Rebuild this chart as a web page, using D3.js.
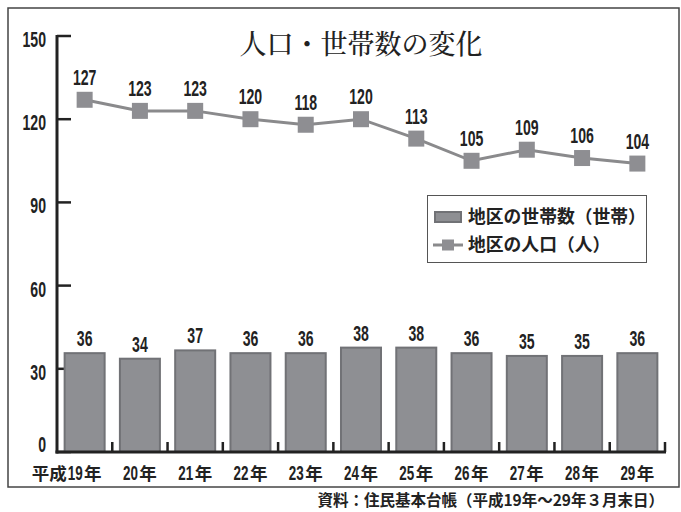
<!DOCTYPE html>
<html><head><meta charset="utf-8">
<script src="https://cdn.jsdelivr.net/npm/d3@7/dist/d3.min.js"></script>
<style>
html,body{margin:0;padding:0;background:#fff;}
svg{display:block;}
</style></head>
<body>
<svg id="c" width="681" height="512"></svg>
<script>
const categories = ["19年","20年","21年","22年","23年","24年","25年","26年","27年","28年","29年"];
const eraPrefix = "平成";
const households = [36,34,37,36,36,38,38,36,35,35,36];
const population = [127,123,123,120,118,120,113,105,109,106,104];
const yTicks = [0,30,60,90,120,150];
const titleText = "人口・世帯数の変化";
const sourceText = "資料：住民基本台帳（平成19年～29年３月末日）";
const legendBar = "地区の世帯数（世帯）";
const legendLine = "地区の人口（人）";

const numFont = "'Liberation Sans',Arial,sans-serif";
const cjkFont = "'Noto Sans CJK JP',sans-serif";
const SX = 0.64;
const NUM_SIZE = 22;

const svg = d3.select("#c");

// frame
svg.append("rect").attr("x",8).attr("y",8).attr("width",671).attr("height",479)
  .attr("fill","none").attr("stroke","#444").attr("stroke-width",1.5);

const x = d3.scaleBand().domain(categories).range([57,665]).paddingInner(0.24).paddingOuter(0.12);
const y = d3.scaleLinear().domain([0,150]).range([452,36]);
const cx = d => x(d) + x.bandwidth()/2;

function numText(sel){
  return sel.attr("font-family",numFont).attr("font-weight","bold").attr("font-size",NUM_SIZE).attr("fill","#222");
}

// y ticks (inward)
svg.append("g").selectAll("line").data(yTicks).join("line")
  .attr("x1",57).attr("x2",71).attr("y1",d=>y(d)).attr("y2",d=>y(d))
  .attr("stroke","#222").attr("stroke-width",2.5);
numText(svg.append("g").selectAll("text").data(yTicks).join("text"))
  .attr("transform",d=>`translate(46,${d===0 ? y(d) : y(d)+11}) scale(${SX},1)`)
  .attr("text-anchor","end").text(d=>d);

// bars
svg.append("g").selectAll("rect").data(households).join("rect")
  .attr("x",(d,i)=>x(categories[i])+1).attr("width",x.bandwidth()-2)
  .attr("y",d=>y(d)+1).attr("height",d=>y(0)-y(d)-1)
  .attr("fill","#8e8f93").attr("stroke","#717276").attr("stroke-width",2);
numText(svg.append("g").selectAll("text").data(households).join("text"))
  .attr("transform",(d,i)=>`translate(${cx(categories[i])},${y(d)-6}) scale(${SX},1)`)
  .attr("text-anchor","middle").text(d=>d);

// axes lines
const ax = svg.append("g");
ax.append("line").attr("x1",57).attr("x2",57).attr("y1",y(150)-1).attr("y2",y(0)+1.5)
  .attr("stroke","#222").attr("stroke-width",3);
ax.append("line").attr("x1",55.5).attr("x2",666).attr("y1",y(0)).attr("y2",y(0))
  .attr("stroke","#222").attr("stroke-width",3);
ax.selectAll("line.tk").data(d3.range(1,categories.length+1)).join("line").attr("class","tk")
  .attr("x1",i=>x.range()[0]+x.step()*i).attr("x2",i=>x.range()[0]+x.step()*i)
  .attr("y1",y(0)-10).attr("y2",y(0))
  .attr("stroke","#222").attr("stroke-width",2.5);

// x labels: condensed digits + 年
const XL_Y = 480;
categories.forEach((c,i)=>{
  const num = c.replace(/年$/,"");
  const g = svg.append("g");
  const t1 = numText(g.append("text")).attr("font-size",21).attr("text-anchor","start")
    .attr("transform",`scale(${SX},1)`).text(num);
  const w1 = t1.node().getComputedTextLength()*SX;
  const t2 = g.append("text").attr("x",w1+1.5).attr("font-family",cjkFont).attr("font-weight","bold")
    .attr("font-size",17.5).attr("fill","#222").text("年");
  const w2 = t2.node().getComputedTextLength();
  const total = w1+1.5+w2;
  const left = cx(c) - total/2;
  g.attr("transform",`translate(${left},${XL_Y})`);
  if(i===0){
    svg.append("text").attr("x",left-1).attr("y",XL_Y).attr("text-anchor","end")
      .attr("font-family",cjkFont).attr("font-weight","bold").attr("font-size",17.5)
      .attr("fill","#222").text(eraPrefix);
  }
});

// line
const line = d3.line().x((d,i)=>cx(categories[i])).y(d=>y(d));
svg.append("path").datum(population).attr("d",line)
  .attr("fill","none").attr("stroke","#8a8a8c").attr("stroke-width",3);
svg.append("g").selectAll("rect").data(population).join("rect")
  .attr("x",(d,i)=>cx(categories[i])-8).attr("y",d=>y(d)-8)
  .attr("width",16).attr("height",16).attr("fill","#8e8e92");
numText(svg.append("g").selectAll("text").data(population).join("text"))
  .attr("transform",(d,i)=>`translate(${cx(categories[i])},${y(d)-15}) scale(${SX},1)`)
  .attr("text-anchor","middle").text(d=>d);

// title
svg.append("text").attr("x",361).attr("y",54).attr("text-anchor","middle")
  .attr("font-family","'Noto Serif CJK JP','Noto Sans CJK JP',serif").attr("font-size",27)
  .attr("font-weight",500).attr("fill","#222").text(titleText);

// legend
const lg = svg.append("g");
lg.append("rect").attr("x",427.5).attr("y",195.5).attr("width",219).attr("height",67)
  .attr("fill","#fff").attr("stroke","#555").attr("stroke-width",1);
lg.append("rect").attr("x",435).attr("y",212).attr("width",26).attr("height",10)
  .attr("fill","#8e8f93").attr("stroke","#717276").attr("stroke-width",2);
lg.append("text").attr("x",468).attr("y",223).attr("font-family",cjkFont).attr("font-weight","bold")
  .attr("font-size",17.8).attr("fill","#222").text(legendBar);
lg.append("line").attr("x1",433).attr("x2",463).attr("y1",245).attr("y2",245)
  .attr("stroke","#8a8a8c").attr("stroke-width",3);
lg.append("rect").attr("x",442).attr("y",239.5).attr("width",12).attr("height",11).attr("fill","#8e8e92");
lg.append("text").attr("x",468).attr("y",251).attr("font-family",cjkFont).attr("font-weight","bold")
  .attr("font-size",17.8).attr("fill","#222").text(legendLine);

// source
svg.append("text").attr("x",664).attr("y",506).attr("text-anchor","end")
  .attr("font-family",cjkFont).attr("font-weight","bold").attr("font-size",15.5)
  .attr("fill","#222").text(sourceText);
</script>
</body></html>
